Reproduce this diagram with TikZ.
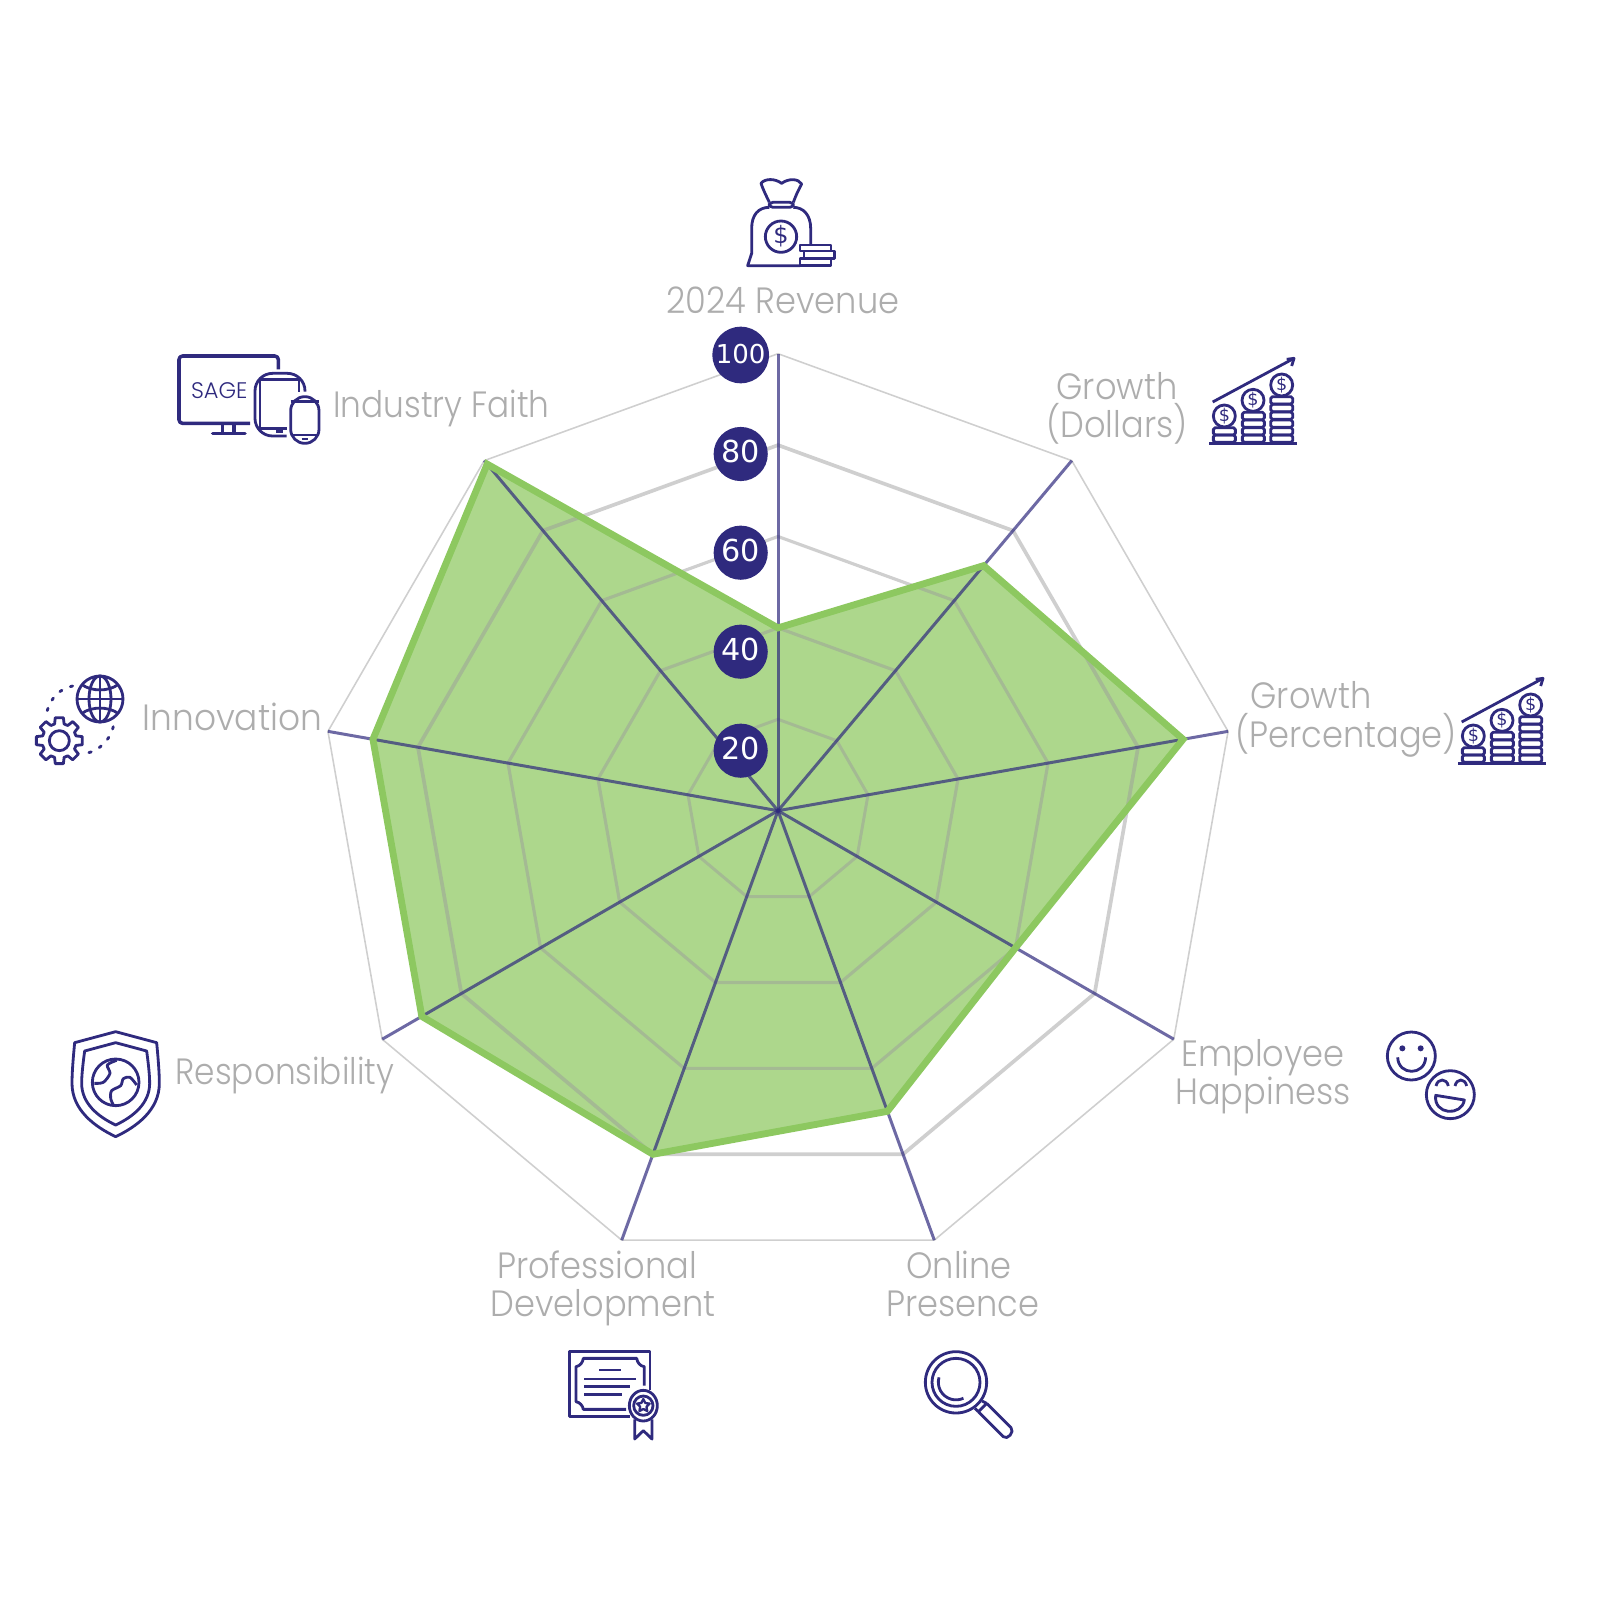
\documentclass[tikz,border=0pt]{standalone}
\usepackage{fontspec}
\setmainfont{Poppins Light}
\newfontfamily\badgefont{DejaVu Sans}
\definecolor{sagenavy}{HTML}{2F2A7E}
\definecolor{sagegreen}{HTML}{8DC860}
\definecolor{ringgray}{HTML}{9A9A9A}
\definecolor{labelgray}{HTML}{ADADAD}
\tikzset{
    ring/.style={draw=ringgray,draw opacity=.47},
    axisline/.style={draw=sagenavy,draw opacity=.7,line width=.85pt},
    badge/.style={circle,fill=sagenavy,text=white,inner sep=0pt,minimum size=15.4pt,text depth=1.3pt,font=\badgefont\fontsize{8.6}{10}\selectfont},
    lbl/.style={text=labelgray,anchor=base,inner sep=0pt,xscale=.92,font=\fontsize{10.4}{13}\selectfont},
    icon/.style={draw=sagenavy,line width=.8pt,line join=round},
    dollar/.style={text=sagenavy,inner sep=0pt,font=\badgefont\fontsize{5}{6}\selectfont},
    coinchart/.pic={
        \draw[icon] (58,310) -- (322,310);
        \draw[icon] (68,186) -- (312,55);
        \draw[icon] (290,58) -- (312,55) -- (305,78);
        %% stacks of coins
        \foreach \xa/\ya in {70/263,70/285,157/217,157/240,157/263,157/285,242/170,242/193,242/216,242/240,242/263,242/285}
            \draw[icon,rounded corners=.5pt] (\xa,\ya) rectangle ++(66,22);
        \foreach \xa/\ya/\nm in {103/228/a,189/181/b,275/135/c} {
            \draw[icon] (\xa,\ya) circle (33);
            \node[dollar] (\nm) at (\xa,\ya) {\$};
        }
    }
}
\begin{document}
\begin{tikzpicture}[x=0.01cm,y=-0.01cm]
    \useasboundingbox (0,0) rectangle (1600,1600);
    \coordinate (c) at (778,810.7);
    %% axis ends and data points
    \foreach \i/\v in {0/40,1/70,2/90,3/60,4/70,5/80,6/90,7/90,8/99} {
        \coordinate (v\i) at ({778+457*sin(40*\i)},{810.7-457*cos(40*\i)});
        \coordinate (d\i) at ({778+4.57*\v*sin(40*\i)},{810.7-4.57*\v*cos(40*\i)});
    }
    %% data area
    \fill[sagegreen,fill opacity=.72] (d0) -- (d1) -- (d2) -- (d3) -- (d4) -- (d5) -- (d6) -- (d7) -- (d8) -- cycle;
    %% grid rings
    \foreach \r/\w in {91.4/.85pt,182.8/.9pt,274.2/.9pt,365.6/1.05pt,457/.45pt}
        \draw[ring,line width=\w] (778,{810.7-\r}) \foreach \i in {1,...,8} { -- ({778+\r*sin(40*\i)},{810.7-\r*cos(40*\i)}) } -- cycle;
    \foreach \i in {0,...,8}
        \draw[axisline] (c) -- (v\i);
    \draw[sagegreen,line width=1.95pt] (d0) -- (d1) -- (d2) -- (d3) -- (d4) -- (d5) -- (d6) -- (d7) -- (d8) -- cycle;
    %% scale badges
    \node[badge,minimum size=16.1pt,text depth=.9pt,font=\badgefont\fontsize{7.4}{9}\selectfont] (b100) at (740.7,355) {100};
    \node[badge] (b80) at (740.7,454) {80};
    \node[badge] (b60) at (740.7,552.7) {60};
    \node[badge] (b40) at (740.7,651.7) {40};
    \node[badge] (b20) at (740.7,750.7) {20};
    %% labels
    \node[lbl] (revenue) at (783,313) {2024 Revenue};
    \node[lbl] (growthd) at (1117,399) {Growth};
    \node[lbl] (dollars) at (1117,437) {(Dollars)};
    \node[lbl] (growthp) at (1311,708) {Growth};
    \node[lbl] (percent) at (1346,747.5) {(Percentage)};
    \node[lbl] (employee) at (1263,1066) {Employee};
    \node[lbl] (happy) at (1263,1104) {Happiness};
    \node[lbl] (online) at (959,1278) {Online};
    \node[lbl] (presence) at (963,1316) {Presence};
    \node[lbl] (prof) at (597,1278) {Professional};
    \node[lbl] (develop) at (603,1316) {Development};
    \node[lbl,anchor=base west,xscale=.973] (respons) at (175,1084) {Responsibility};
    \node[lbl,anchor=base west,xscale=1.022] (innov) at (142,730) {Innovation};
    \node[lbl,anchor=base west,xscale=.973] (faith) at (332.7,417) {Industry Faith};
    %% money bag
    \begin{scope}[shift={(650,150)},scale=1/3]
        \draw[icon] (358,157) .. controls (345,130) and (338,115) .. (333,100) .. controls (345,85) and (375,85) .. (395,100) .. controls (415,85) and (445,85) .. (455,102) .. controls (448,115) and (440,130) .. (430,157);
        \draw[icon,rounded corners=1pt] (358,157) rectangle (430,172);
        \draw[icon] (482,285) -- (482,235) .. controls (482,195) and (460,172) .. (430,172);
        \draw[icon] (358,172) .. controls (325,172) and (305,195) .. (305,235) -- (305,310) -- (293,347) -- (450,347);
        \draw[icon] (393,260) circle (47);
        \node[dollar,font=\badgefont\fontsize{6.8}{8}\selectfont] (bagsign) at (393,260) {\$};
        \draw[icon] (450,285) rectangle (543,303);
        \draw[icon] (462,303) rectangle (553,326);
        \draw[icon] (450,326) rectangle (543,347);
    \end{scope}
    %% coin charts
    \pic[scale=1/3] (chartd) at (1190,340) {coinchart};
    \pic[scale=1/3] (chartp) at (1439,660) {coinchart};
    %% devices
    \begin{scope}[shift={(150,330)},scale=1/3]
        \draw[icon,line width=1pt,rounded corners=1pt] (385,118) -- (385,78) -- (87,78) -- (87,280) -- (300,280);
        \draw[icon,line width=1pt] (218,280) -- (218,310) (252,280) -- (252,310);
        \draw[icon,line width=1pt,line cap=round] (188,311) -- (285,311);
        \node[text=sagenavy,inner sep=0pt,font=\fontsize{6.4}{8}\selectfont] (sage) at (208,182) {SAGE};
        \draw[icon,rounded corners=5pt] (465,185) -- (465,130) -- (315,130) -- (315,318) -- (410,318);
        \draw[icon] (447,185) -- (447,148) -- (330,148) -- (330,295) -- (410,295);
        \draw[icon] (378,305) -- (400,305);
        \draw[icon,rounded corners=4pt] (422,200) rectangle (507,340);
        \draw[icon] (422,215) -- (507,215) (422,315) -- (507,315);
        \draw[icon] (455,327) -- (475,327);
    \end{scope}
    %% globe and gear
    \begin{scope}[shift={(20,660)},scale=1/3]
        \draw[icon] (240,117) circle (69);
        \draw[icon] (240,117) ellipse (33 and 69);
        \draw[icon] (240,48) -- (240,186) (171,117) -- (309,117);
        \draw[icon] (186,74) .. controls (215,95) and (265,95) .. (294,74);
        \draw[icon] (186,160) .. controls (215,139) and (265,139) .. (294,160);
        \draw[icon] (118,242) circle (30);
        \draw[icon] ({118+52*cos(-16)},{242+52*sin(-16)}) \foreach \a in {0,45,...,315} { -- ({118+52*cos(\a-16)},{242+52*sin(\a-16)}) -- ({118+70*cos(\a-10)},{242+70*sin(\a-10)}) -- ({118+70*cos(\a+10)},{242+70*sin(\a+10)}) -- ({118+52*cos(\a+16)},{242+52*sin(\a+16)}) } -- cycle;
        \draw[icon,line cap=round,dash pattern=on .7pt off 2.6pt] (158,78) .. controls (120,85) and (90,115) .. (80,158);
        \draw[icon,line cap=round,dash pattern=on .7pt off 2.6pt] (280,200) .. controls (270,240) and (240,270) .. (200,280);
    \end{scope}
    %% shield
    \begin{scope}[shift={(50,1020)},scale=1/3]
        \draw[icon] (197,35) -- (320,68) .. controls (325,120) and (328,160) .. (328,190) .. controls (328,270) and (260,320) .. (197,350) .. controls (134,320) and (66,270) .. (66,190) .. controls (66,160) and (69,120) .. (74,68) -- cycle;
        \draw[icon] (197,68) -- (290,93) .. controls (295,130) and (299,165) .. (299,190) .. controls (299,250) and (250,290) .. (197,315) .. controls (144,290) and (95,250) .. (95,190) .. controls (95,165) and (99,130) .. (104,93) -- cycle;
        \draw[icon] (197,187) circle (70);
        \draw[icon] plot[smooth] coordinates {(200,121) (172,135) (180,160) (160,187) (133,190)};
        \draw[icon] plot[smooth] coordinates {(260,195) (240,172) (220,176) (212,197) (185,212) (182,235) (190,255)};
    \end{scope}
    %% certificate and magnifier
    \begin{scope}[shift={(550,1340)},scale=1/3]
        \draw[icon] (300,150) -- (300,35) -- (58,35) -- (58,230) -- (240,230);
        \draw[icon] (283,137) -- (283,80) .. controls (270,78) and (262,68) .. (260,55) -- (100,55) .. controls (98,68) and (90,78) .. (78,80) -- (78,185) .. controls (90,187) and (98,197) .. (100,208) -- (228,208);
        \draw[icon] (148,90) -- (212,90) (102,117) -- (258,117) (102,140) -- (240,140) (102,163) -- (217,163);
        \draw[icon] (280,197) ellipse (42 and 46);
        \draw[icon] (280,197) circle (29);
        \draw[icon,line width=.65pt] (280,177) \foreach \a in {36,72,...,324} { -- ({280+(mod(\a,72)==0 ? 20 : 10)*sin(\a)},{197-(mod(\a,72)==0 ? 20 : 10)*cos(\a)}) } -- cycle;
        \draw[icon] (254,238) -- (254,297) -- (280,272) -- (306,297) -- (306,238);
        \draw[icon] (1218,127) circle (92);
        \draw[icon] (1218,127) circle (72);
        \draw[icon] (1167,112) arc (196:65:53);
        \draw[icon] (1275,205) -- (1285,215) (1296,183) -- (1310,190) (1285,215) -- (1310,190);
        \draw[icon] (1310,190) -- (1383,263) .. controls (1395,275) and (1372,302) .. (1360,290) -- (1285,215);
    \end{scope}
    %% smileys
    \begin{scope}[shift={(1370,1020)},scale=1/3]
        \draw[icon] (124,108) circle (72);
        \fill[sagenavy] (97,85) circle (9) (152,85) circle (9);
        \draw[icon] (83,112) .. controls (85,168) and (165,168) .. (167,112);
        \draw[icon] (241,224) circle (72);
        \draw[icon] (198,198) .. controls (203,174) and (230,174) .. (235,198);
        \draw[icon] (255,198) .. controls (260,174) and (285,174) .. (290,198);
        \draw[icon] (197,226) -- (283,240) .. controls (275,290) and (190,285) .. (197,226) -- cycle;
    \end{scope}
\end{tikzpicture}
\end{document}
